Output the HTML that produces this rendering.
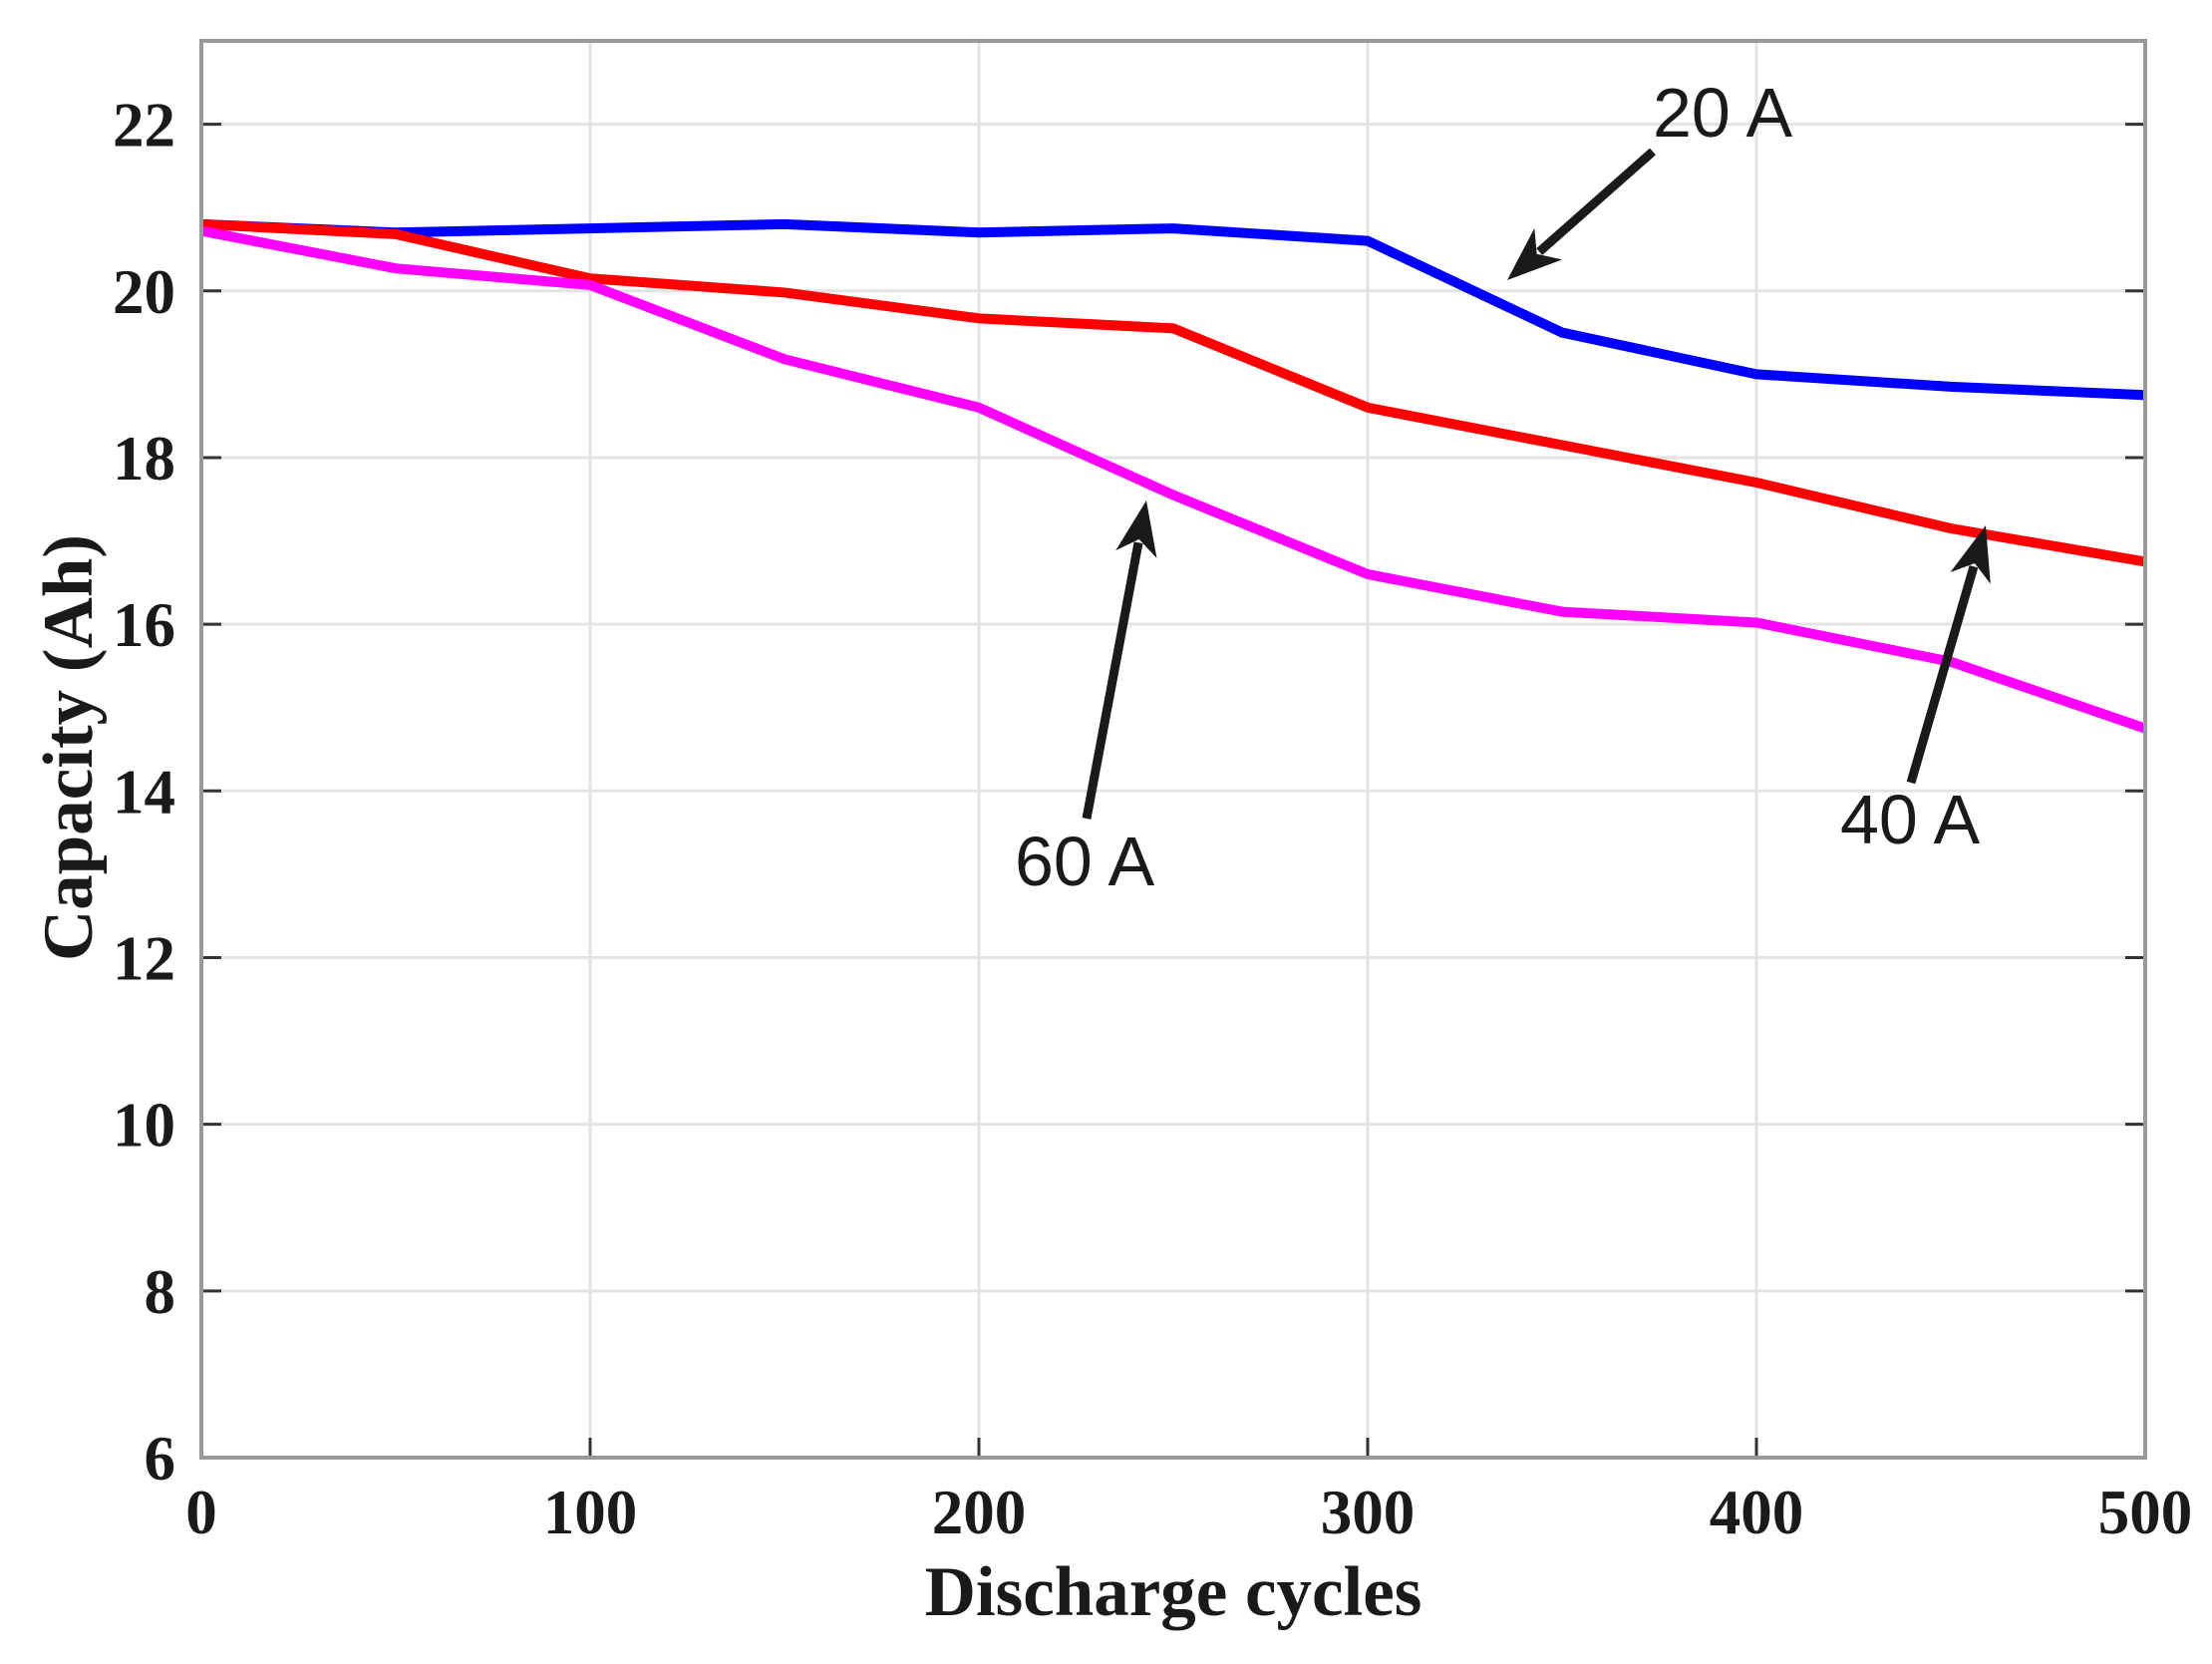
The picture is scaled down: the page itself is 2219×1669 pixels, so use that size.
<!DOCTYPE html>
<html><head><meta charset="utf-8"><style>
html,body{margin:0;padding:0;background:#fff;}
svg{display:block;}
.tick{font-family:"Liberation Serif",serif;font-weight:bold;font-size:63px;fill:#1a1a1a;}
.ann{font-family:"Liberation Sans",sans-serif;font-size:70px;fill:#1a1a1a;}
</style></head><body>
<svg id="chart" width="2219" height="1669" viewBox="0 0 2219 1669" xmlns="http://www.w3.org/2000/svg">
<g id="grid"></g>
<g id="series"></g>
<g id="axes"></g>
<g id="annots"></g>
</svg>
<script>
const cycles = [0,50,100,150,200,250,300,350,400,450,500];
const cap20A = [20.8,20.7,20.75,20.8,20.7,20.75,20.6,19.5,19.0,18.85,18.75];
const cap40A = [20.8,20.68,20.15,19.98,19.67,19.55,18.6,18.15,17.7,17.15,16.75];
const cap60A = [20.72,20.27,20.07,19.18,18.6,17.55,16.6,16.15,16.02,15.55,14.75];
const xTicks = [0,100,200,300,400,500];
const yTicks = [6,8,10,12,14,16,18,20,22];
const X0=202,X1=2152,Y0=1462,Y1=41,XMIN=0,XMAX=500,YMIN=6,YMAX=23;
const sx=v=>X0+(v-XMIN)/(XMAX-XMIN)*(X1-X0);
const sy=v=>Y0-(v-YMIN)/(YMAX-YMIN)*(Y0-Y1);
const NS="http://www.w3.org/2000/svg";
function mk(tag,attrs,parent){const e=document.createElementNS(NS,tag);for(const k in attrs)e.setAttribute(k,attrs[k]);parent.appendChild(e);return e;}
const grid=document.getElementById('grid'),axes=document.getElementById('axes'),series=document.getElementById('series'),ann=document.getElementById('annots');
xTicks.forEach(t=>{
  const g=mk('line',{x1:sx(t),x2:sx(t),y1:Y1,y2:Y0,stroke:'#e3e3e3','stroke-width':3},grid);
  
  
  const tk=mk('line',{x1:sx(t),x2:sx(t),y1:Y0,y2:Y0-20,stroke:'#333','stroke-width':3},axes);
  
  
  const tx=mk('text',{x:sx(t),y:1538,'text-anchor':'middle',class:'tick'},axes);
  tx.textContent=t;
  
  
});
yTicks.forEach(t=>{
  const g=mk('line',{x1:X0,x2:X1,y1:sy(t),y2:sy(t),stroke:'#e3e3e3','stroke-width':3},grid);
  
  
  const tk=mk('line',{x1:X0,x2:X0+20,y1:sy(t),y2:sy(t),stroke:'#333','stroke-width':3},axes);
  
  
  const tk2=mk('line',{x1:X1,x2:X1-20,y1:sy(t),y2:sy(t),stroke:'#333','stroke-width':3},axes);
  
  
  const tx=mk('text',{x:176,y:sy(t)+22,'text-anchor':'end',class:'tick'},axes);
  tx.textContent=t;
  
  
});
const box=mk('rect',{x:X0,y:Y1,width:X1-X0,height:Y0-Y1,fill:'none',stroke:'#999','stroke-width':4},axes);


const xl=mk('text',{x:1177,y:1620,'text-anchor':'middle',class:'tick',style:'font-size:71px'},axes);
xl.textContent='Discharge cycles';


const yl=mk('text',{x:0,y:0,'text-anchor':'middle',class:'tick',style:'font-size:71px',transform:'translate(92,750) rotate(-90)'},axes);
yl.textContent='Capacity (Ah)';


[[cap20A,'#0000ff','line-20a'],[cap40A,'#ff0000','line-40a'],[cap60A,'#ff00ff','line-60a']].forEach(([vals,col,name])=>{
  const p=mk('polyline',{points:cycles.map((c,i)=>sx(c)+','+sy(vals[i])).join(' '),fill:'none',stroke:col,'stroke-width':10,'stroke-linejoin':'round'},series);
  
  
});
function arrow(x1,y1,x2,y2,name){
  const dx=x2-x1,dy=y2-y1,L=Math.hypot(dx,dy),ux=dx/L,uy=dy/L,hl=55,hw=21;
  const bx=x2-ux*hl,by=y2-uy*hl;
  const l=mk('line',{x1:x1,y1:y1,x2:bx+ux*12,y2:by+uy*12,stroke:'#1a1a1a','stroke-width':9},ann);
  
  
  const nx=-uy,ny=ux,ix=x2-ux*hl*0.72,iy=y2-uy*hl*0.72;
  const h=mk('polygon',{points:`${x2},${y2} ${bx+nx*hw},${by+ny*hw} ${ix},${iy} ${bx-nx*hw},${by-ny*hw}`,fill:'#1a1a1a'},ann);
  
  
}
arrow(1658,152,1512,281,'arrow-20a');
arrow(1090,821,1150,502,'arrow-60a');
arrow(1917,785,1992,527,'arrow-40a');
[['20 A',1658,137,'label-20a'],['60 A',1018,888,'label-60a'],['40 A',1846,846,'label-40a']].forEach(([t,x,y,n])=>{
  const e=mk('text',{x:x,y:y,class:'ann'},ann);
  e.textContent=t;
  
  
});
</script>
</body></html>
